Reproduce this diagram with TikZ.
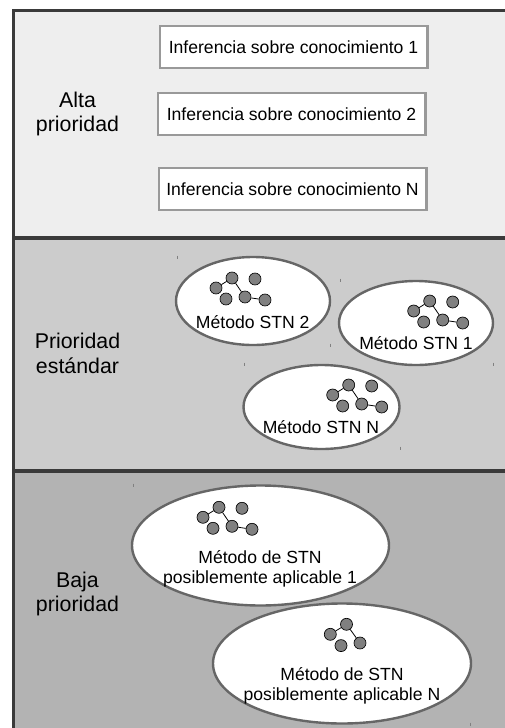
\documentclass[tikz,border=0pt]{standalone}
\usepackage{fontspec}
\setmainfont{Liberation Sans}
\usetikzlibrary{shapes.geometric}
\definecolor{bandA}{HTML}{EEEEEE}
\definecolor{bandB}{HTML}{CCCCCC}
\definecolor{bandC}{HTML}{B3B3B3}
\definecolor{frameC}{HTML}{3A3A3A}
\definecolor{boxC}{HTML}{999999}
\definecolor{ellC}{HTML}{666666}
\definecolor{dotC}{HTML}{808080}
\tikzset{
  x=0.75pt,y=-0.75pt,
  band/.style={fill=#1,draw=frameC,line width=2.3pt},
  infbox/.style={draw=boxC,fill=white,line width=2pt,rectangle,minimum width=200.5pt,minimum height=31.5pt,inner sep=0pt,font=\fontsize{13.2}{16}\selectfont},
  stnell/.style={draw=ellC,fill=white,line width=1.8pt,ellipse,inner sep=0pt},
  lbl/.style={font=\fontsize{16}{18.5}\selectfont,align=center,inner sep=0pt},
  ellab/.style={font=\fontsize{13.2}{15}\selectfont,align=center,inner sep=0pt},
  dotn/.style={circle,draw=black,fill=dotC,line width=0.5pt,minimum size=9pt,inner sep=0pt},
  lnk/.style={draw=black,line width=0.6pt},
  speck/.style={draw=gray,line width=0.4pt}
}
\newcommand{\fulltree}[2]{%
  \node[dotn] (#1a) at (#2) {};
  \node[dotn] (#1b) at ([shift={(16,-10)}]#2) {};
  \node[dotn] (#1c) at ([shift={(39,-9)}]#2) {};
  \node[dotn] (#1d) at ([shift={(10,11)}]#2) {};
  \node[dotn] (#1e) at ([shift={(29,9)}]#2) {};
  \node[dotn] (#1f) at ([shift={(49,12)}]#2) {};
  \draw[lnk] (#1a) -- (#1b);
  \draw[lnk] (#1b) -- (#1e);
  \draw[lnk] (#1e) -- (#1f);
}
\begin{document}
\begin{tikzpicture}
\useasboundingbox (0,0) rectangle (505,728);
\fill[white] (0,0) rectangle (505,728);
\begin{scope}
\clip (0,0) rectangle (505,728);
\draw[band=bandA] (13.5,10.5) rectangle (520,238);
\draw[band=bandB] (13.5,238) rectangle (520,471);
\draw[band=bandC] (13.5,471) rectangle (520,740);
\end{scope}
% high priority
\node[infbox] (b1) at (293.5,47) {Inferencia sobre conocimiento 1};
\node[infbox] (b2) at (291.5,114) {Inferencia sobre conocimiento 2};
\node[infbox] (b3) at (292.5,189) {Inferencia sobre conocimiento N};
\node[lbl] (alta) at (77.5,114) {Alta\\prioridad};
\node[lbl] (std) at (77.5,353.5) {Prioridad\\estándar};
\node[lbl] (baja) at (77.5,594) {Baja\\prioridad};
% standard
\node[stnell,minimum width=115.5pt,minimum height=66pt] (e2) at (253,301) {};
\node[stnell,minimum width=115.5pt,minimum height=63pt] (e1) at (416,323) {};
\node[stnell,minimum width=117pt,minimum height=63pt] (en) at (321.5,407) {};
\node[ellab] (t2) at (252.7,321.7) {Método STN 2};
\node[ellab] (t1) at (416,343) {Método STN 1};
\node[ellab] (tn) at (321,427) {Método STN N};
\fulltree{p}{216,288}
\fulltree{q}{413.7,311}
\fulltree{r}{332.7,395}
% low
\node[stnell,minimum width=192.75pt,minimum height=90pt] (l1) at (260.5,545.5) {};
\node[stnell,minimum width=193.5pt,minimum height=90pt] (ln) at (342,663.5) {};
\node[ellab] (tl1) at (260,568.5) {Método de STN\\posiblemente aplicable 1};
\node[ellab] (tln) at (342,686) {Método de STN\\posiblemente aplicable N};
\fulltree{s}{203,517.3}
\node[dotn] (ua) at (330.3,634.3) {};
\node[dotn] (ub) at (346.5,624.3) {};
\node[dotn] (ud) at (341,645.6) {};
\node[dotn] (ue) at (360,643) {};
\draw[lnk] (ua) -- (ub);
\draw[lnk] (ub) -- (ue);
% specks
\foreach \x/\y in {177.5/257,340/280,330/345,244/364,493/364,400/448,133/485,470/724}
  \draw[speck] (\x,\y-1.5) -- (\x,\y+1.5);
\end{tikzpicture}
\end{document}
